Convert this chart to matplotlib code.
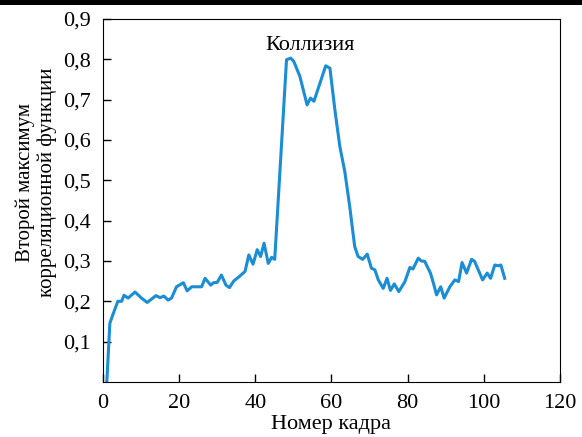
# !/usr/bin/env python
import matplotlib
matplotlib.use('Agg')
import numpy as np
from matplotlib import pyplot as plt
from matplotlib.patches import Rectangle

# frame numbers and second correlation maximum
frames = [1.0, 1.8, 3.1, 3.9, 4.9, 5.5, 6.6, 8.4, 10.1, 11.6, 13.9, 15.0, 16.0, 17.1, 18.0,
          19.3, 21.1, 22.1, 23.3, 25.9, 26.8, 28.3, 29.0, 30.0, 31.1, 32.3, 33.2, 34.4, 35.5,
          37.3, 38.3, 39.4, 40.5, 41.4, 42.3, 43.4, 44.3, 45.1, 48.2, 49.3, 50.1, 51.7, 53.6,
          54.5, 55.4, 58.5, 59.6, 60.9, 62.2, 63.5, 64.8, 66.1, 67.0, 68.2, 69.4, 70.5, 71.4,
          72.3, 73.6, 74.6, 75.5, 76.5, 77.7, 79.3, 80.6, 81.4, 82.8, 83.6, 84.5, 86.0, 86.9,
          87.6, 88.7, 89.6, 91.1, 92.4, 93.4, 94.3, 95.5, 96.8, 97.6, 99.7, 100.9, 101.8,
          102.9, 103.8, 104.5, 105.5]
second_max = [0.0, 0.146, 0.18, 0.20, 0.20, 0.215, 0.208, 0.223, 0.208, 0.197, 0.214, 0.209,
              0.213, 0.203, 0.208, 0.236, 0.246, 0.226, 0.236, 0.236, 0.257, 0.24, 0.246,
              0.247, 0.265, 0.24, 0.234, 0.251, 0.259, 0.274, 0.315, 0.292, 0.328, 0.311,
              0.344, 0.294, 0.309, 0.304, 0.799, 0.803, 0.795, 0.758, 0.687, 0.704, 0.696,
              0.784, 0.778, 0.675, 0.584, 0.522, 0.435, 0.336, 0.311, 0.304, 0.317, 0.282,
              0.278, 0.253, 0.232, 0.257, 0.227, 0.243, 0.224, 0.249, 0.284, 0.28, 0.307,
              0.30, 0.299, 0.27, 0.241, 0.216, 0.236, 0.208, 0.236, 0.253, 0.249, 0.296,
              0.27, 0.304, 0.299, 0.253, 0.27, 0.257, 0.29, 0.288, 0.29, 0.257]

y_ticks = [0.1, 0.2, 0.3, 0.4, 0.5, 0.6, 0.7, 0.8, 0.9]
y_tick_labels = ['0,1', '0,2', '0,3', '0,4', '0,5', '0,6', '0,7', '0,8', '0,9']
x_ticks = [0, 20, 40, 60, 80, 100, 120]


def main():
    plt.rcParams['font.family'] = ['Liberation Serif', 'DejaVu Serif']
    plt.rcParams['font.size'] = 16

    fig = plt.figure(figsize=[5.82, 4.37], dpi=100)
    ax = fig.add_axes([0.177, 0.126, 0.785, 0.8305])

    ax.plot(frames, second_max, color='#1A8DD5', linewidth=2.2, solid_joinstyle='round')

    ax.set_xlim(0, 120)
    ax.set_ylim(0, 0.9)
    ax.set_xticks(x_ticks)
    ax.set_yticks(y_ticks)
    ax.set_yticklabels(y_tick_labels)
    ax.tick_params(direction='in', length=6, width=1, pad=9)

    ax.set_xlabel('Номер кадра', labelpad=1)
    ax.set_ylabel('Второй максимум\nкорреляционной функции', fontsize=15, linespacing=1.2)
    ax.yaxis.set_label_coords(-0.1, 0.55)
    ax.text(54.3, 0.834, 'Коллизия', ha='center', va='center')

    # black bar along the top edge
    fig.patches.append(Rectangle((0, 1 - 5 / 437), 1, 5 / 437, transform=fig.transFigure,
                                 facecolor='black', edgecolor='none'))

    fig.savefig('out.png', dpi=100)


if __name__ == '__main__':
    main()
